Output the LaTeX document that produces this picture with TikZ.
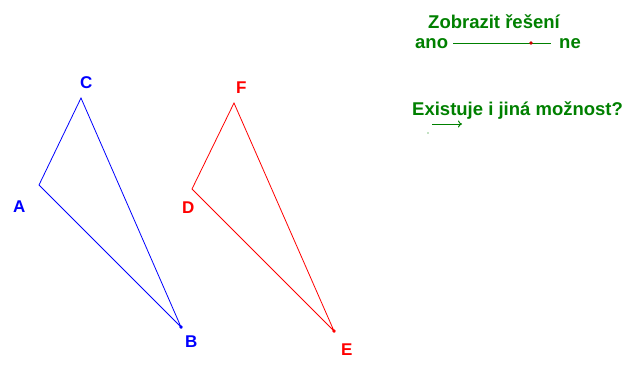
\documentclass[tikz,border=0pt]{standalone}
\usepackage{fontspec}
\setmainfont{Liberation Sans}
\usepackage{tikz}
\usetikzlibrary{arrows.meta}
\definecolor{ggreen}{RGB}{0,128,0}

\begin{document}
\begin{tikzpicture}[x=1pt,y=-1pt,
    lab/.style={font=\fontsize{17}{19}\selectfont\bfseries,inner sep=0pt,anchor=base west},
    grn/.style={font=\fontsize{18.5}{21}\selectfont\bfseries,inner sep=0pt,anchor=base west,text=ggreen}]
    \useasboundingbox (0,0) rectangle (625,367);

    % first triangle
    \coordinate (a) at (39,185);
    \coordinate (b) at (181,327);
    \coordinate (c) at (81,98);

    % second triangle
    \coordinate (d) at (192,189);
    \coordinate (e) at (334,331);
    \coordinate (f) at (234,103);

    \draw[blue,line width=0.8pt] (a) -- (b) -- (c) -- cycle;
    \draw[red,line width=0.8pt] (d) -- (e) -- (f) -- cycle;
    \fill[blue] (b) circle (1.8pt);
    \fill[red] (e) circle (1.8pt);

    \node[lab,text=blue] (la) at (13,212) {A};
    \node[lab,text=blue] (lb) at (185,347) {B};
    \node[lab,text=blue] (lc) at (80,88) {C};
    \node[lab,text=red] (ld) at (182,213) {D};
    \node[lab,text=red] (le) at (341,355) {E};
    \node[lab,text=red] (lf) at (236,93) {F};

    % slider
    \node[grn] (title) at (428,28) {Zobrazit řešení};
    \node[grn] (ano) at (415,48) {ano};
    \node[grn] (ne) at (559,48) {ne};
    \coordinate (s1) at (453,43);
    \coordinate (s2) at (551,43);
    \coordinate (knob) at (531,43);
    \draw[ggreen,line width=1pt] (s1) -- (s2);
    \fill[red!80!black] (knob) circle (1.8pt);

    \node[grn] (jina) at (412,115) {Existuje i jiná možnost?};
    \coordinate (p0) at (428,133);
    \coordinate (p1) at (432,124);
    \coordinate (p2) at (462,124);
    \draw[ggreen,line width=1pt,-{To[length=4pt,width=7pt]}] (p1) -- (p2);
    \fill[ggreen] (p0) circle (0.6pt);
\end{tikzpicture}
\end{document}
